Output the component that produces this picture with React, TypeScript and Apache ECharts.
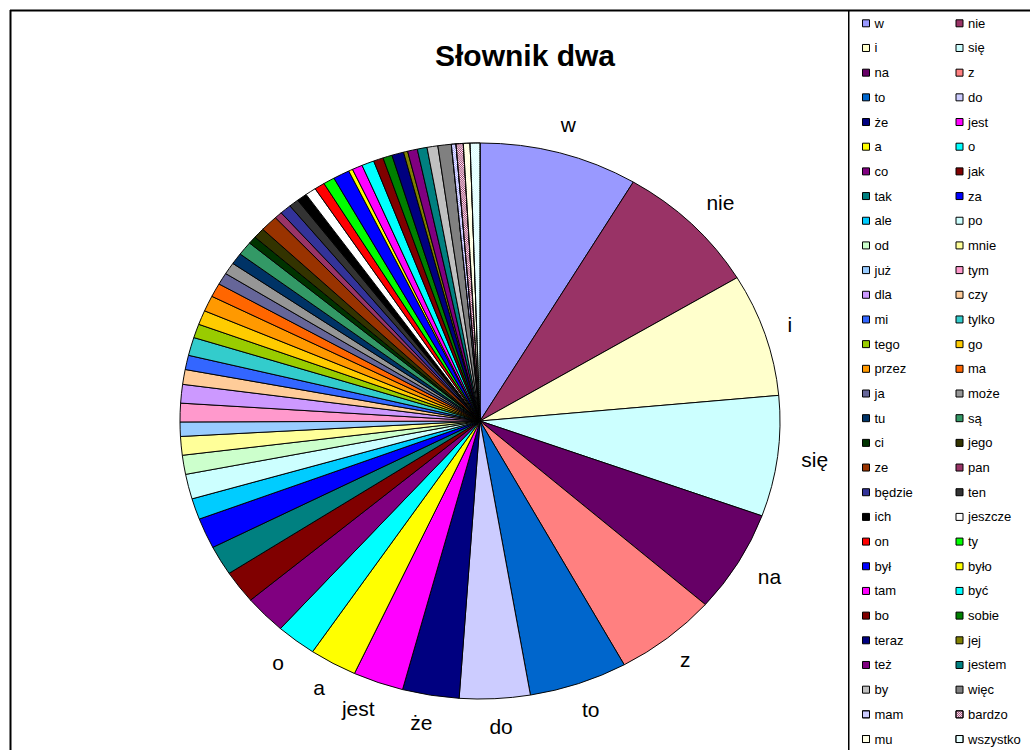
import React, { useEffect, useRef } from "react";
import * as echarts from "echarts";

// Word frequencies of "Słownik dwa", in the order they are drawn (clockwise from 12 o'clock).
const words = [
  "w", "nie", "i", "się", "na", "z", "to", "do", "że", "jest",
  "a", "o", "co", "jak", "tak", "za", "ale", "po", "od", "mnie",
  "już", "tym", "dla", "czy", "mi", "tylko", "tego", "go", "przez", "ma",
  "ja", "może", "tu", "są", "ci", "jego", "ze", "pan", "będzie", "ten",
  "ich", "jeszcze", "on", "ty", "był", "było", "tam", "być", "bo", "sobie",
  "teraz", "jej", "też", "jestem", "by", "więc", "mam", "bardzo", "mu", "wszystko",
];

const counts = [
  308, 283, 258, 253, 214, 200, 191, 137, 110, 98,
  92, 78, 82, 69, 62, 64, 44, 52, 40, 39,
  30, 39, 39, 31, 30, 38, 29, 30, 33, 29,
  25, 25, 24, 29, 16, 22, 34, 15, 22, 19,
  20, 21, 20, 22, 32, 8, 20, 24, 19, 18,
  23, 8, 19, 19, 21, 26, 9, 14, 13, 19,
];

// Classic spreadsheet palette; the last four entries are drawn as dotted patterns.
const colors = [
  "#9999FF", "#993366", "#FFFFCC", "#CCFFFF", "#660066", "#FF8080", "#0066CC", "#CCCCFF", "#000080", "#FF00FF",
  "#FFFF00", "#00FFFF", "#800080", "#800000", "#008080", "#0000FF", "#00CCFF", "#CCFFFF", "#CCFFCC", "#FFFF99",
  "#99CCFF", "#FF99CC", "#CC99FF", "#FFCC99", "#3366FF", "#33CCCC", "#99CC00", "#FFCC00", "#FF9900", "#FF6600",
  "#666699", "#969696", "#003366", "#339966", "#003300", "#333300", "#993300", "#993366", "#333399", "#333333",
  "#000000", "#FFFFFF", "#FF0000", "#00FF00", "#0000FF", "#FFFF00", "#FF00FF", "#00FFFF", "#800000", "#008000",
  "#000080", "#808000", "#800080", "#008080", "#C0C0C0", "#808080", "#9999FF", "#993366", "#FFFFCC", "#CCFFFF",
];

const patternFrom = 56; // first index drawn with a pattern fill
const labelledCount = 12; // only the biggest slices carry a label
const titleText = "Słownik dwa";

const FONT = '"Liberation Sans", Arial, Helvetica, sans-serif';
const PIE_SCALE = 0.9267; // vertical squash of the pie layer (plot area is wider than tall)
const PIE_LAYER_H = 810;

function buildData() {
  return words.map((name, i) => {
    const patterned = i >= patternFrom;
    return {
      name,
      value: counts[i],
      itemStyle: patterned
        ? {
            color: "#FFFFFF",
            decal: {
              symbol: "rect",
              symbolSize: 1,
              dashArrayX: [[1, 1], [0, 1, 1, 0]],
              dashArrayY: [1, 0],
              color: colors[i],
            },
          }
        : { color: colors[i] },
      label: { show: i < labelledCount },
    };
  });
}

export default function App() {
  const bgRef = useRef<HTMLDivElement>(null);
  const pieRef = useRef<HTMLDivElement>(null);

  useEffect(() => {
    if (!bgRef.current || !pieRef.current) return;
    const data = buildData();

    const bg = echarts.init(bgRef.current, undefined, { renderer: "svg" });
    const legendBase = {
      orient: "vertical" as const,
      top: 16.3,
      padding: 0,
      itemWidth: 7,
      itemHeight: 7,
      itemGap: 10.68,
      icon: "rect",
      selectedMode: false,
      itemStyle: { borderColor: "#000", borderWidth: 1 },
      textStyle: { fontSize: 13, lineHeight: 14, fontFamily: FONT, color: "#000" },
    };
    bg.setOption({
      animation: false,
      graphic: [
        { type: "line", shape: { x1: 10, y1: 10.5, x2: 1030, y2: 10.5 }, style: { stroke: "#000", lineWidth: 2 } },
        { type: "line", shape: { x1: 10.5, y1: 10, x2: 10.5, y2: 750 }, style: { stroke: "#000", lineWidth: 2 } },
        { type: "line", shape: { x1: 848.75, y1: 10, x2: 848.75, y2: 750 }, style: { stroke: "#000", lineWidth: 1.5 } },
        {
          type: "text",
          x: 525,
          y: 55,
          style: {
            text: titleText,
            font: `bold 30px ${FONT}`,
            align: "center",
            verticalAlign: "middle",
            fill: "#000",
          },
        },
      ],
      legend: [
        { ...legendBase, left: 862, data: words.filter((_, i) => i % 2 === 0) },
        { ...legendBase, left: 955.5, data: words.filter((_, i) => i % 2 === 1) },
      ],
      series: [
        {
          type: "pie",
          center: [480, 420],
          radius: 0,
          silent: true,
          label: { show: false },
          labelLine: { show: false },
          itemStyle: { borderWidth: 0 },
          data,
        },
      ],
    });

    const pie = echarts.init(pieRef.current, undefined, { renderer: "svg" });
    pie.setOption({
      animation: false,
      series: [
        {
          type: "pie",
          center: [480, 421 / PIE_SCALE],
          radius: 300,
          startAngle: 90,
          clockwise: true,
          avoidLabelOverlap: false,
          label: {
            show: false,
            position: "outside",
            fontSize: 21,
            fontFamily: FONT,
            color: "#000",
            distanceToLabelLine: 5,
          },
          labelLine: { show: false, length: 31, length2: -12 },
          itemStyle: { borderColor: "#000", borderWidth: 1 },
          emphasis: { disabled: true },
          data,
        },
      ],
    });

    return () => {
      bg.dispose();
      pie.dispose();
    };
  }, []);

  return (
    <div
      style={{
        position: "fixed",
        left: 0,
        top: 0,
        width: 1030,
        height: 750,
        overflow: "hidden",
        background: "#fff",
      }}
    >
      <div ref={bgRef} style={{ position: "absolute", left: 0, top: 0, width: 1030, height: 750 }} />
      <div
        ref={pieRef}
        style={{
          position: "absolute",
          left: 0,
          top: 0,
          width: 1030,
          height: PIE_LAYER_H,
          transform: `scaleY(${PIE_SCALE})`,
          transformOrigin: "0 0",
        }}
      />
    </div>
  );
}
